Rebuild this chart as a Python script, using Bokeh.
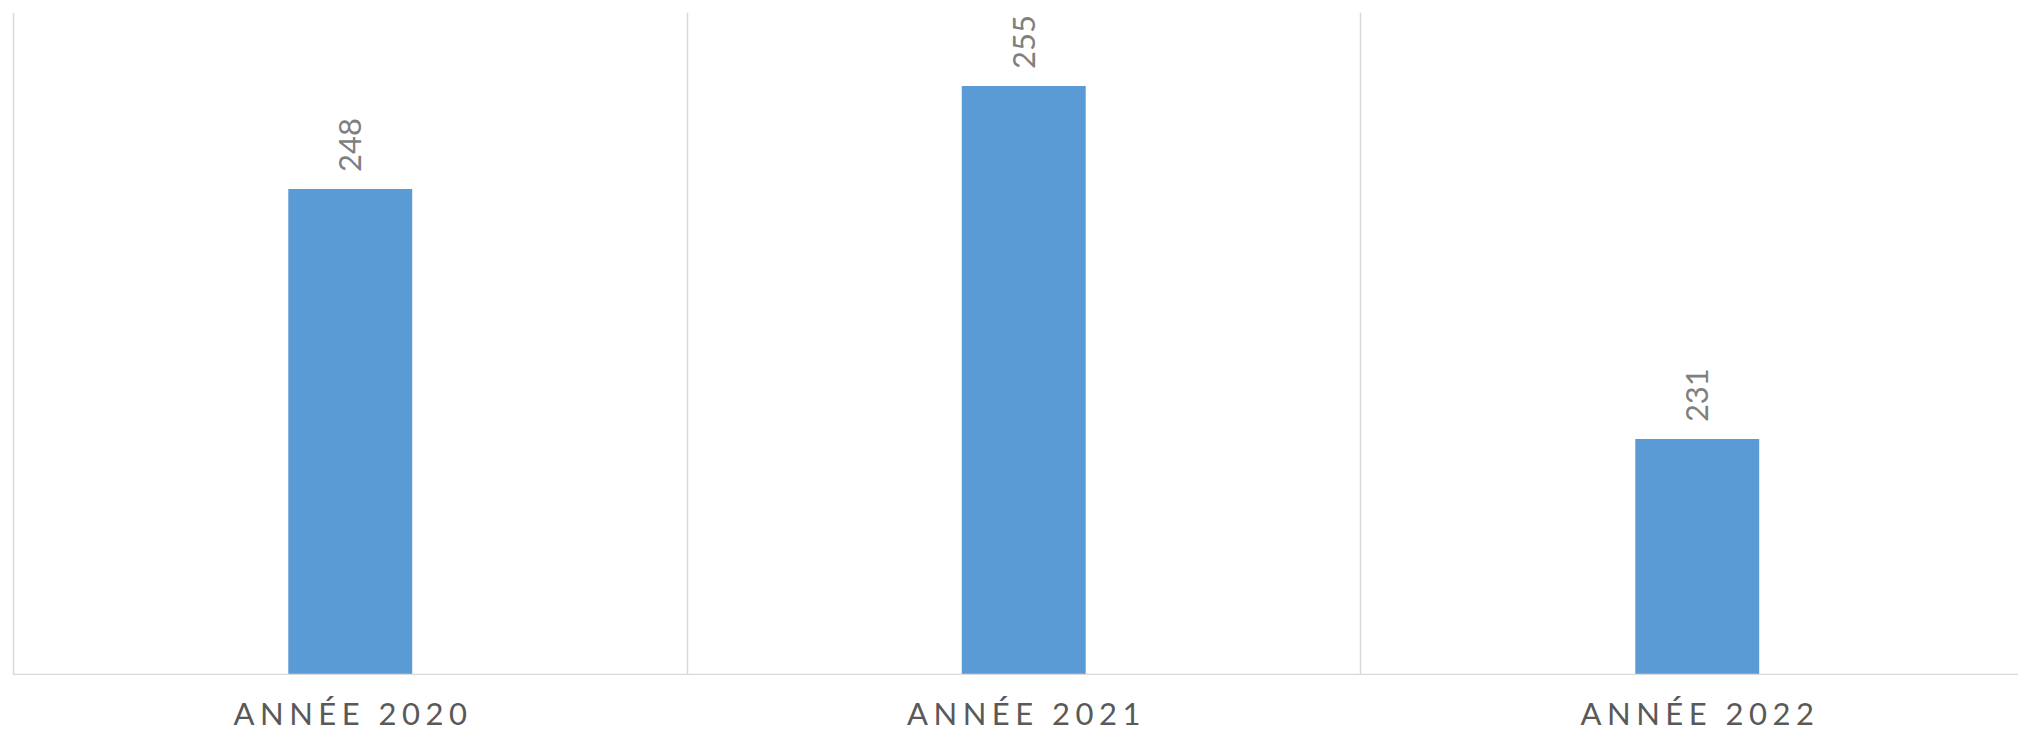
import math
from bokeh.plotting import figure
from bokeh.models import ColumnDataSource, Range1d, FixedTicker, InlineStyleSheet, Grid, Span
from bokeh.layouts import column
from bokeh.core.properties import value
from bokeh.embed import file_html
from bokeh.resources import INLINE

# ---- data ----
categories = ["ANNÉE 2020", "ANNÉE 2021", "ANNÉE 2022"]
values = [248, 255, 231]
y_min = 215
y_max = 260

FONT = "Lato"
BAR_COLOR = "#5b9bd5"
GRID_COLOR = "#d9d9d9"
LETTER_SPACING = 5.5

n = len(categories)
xs = [i + 0.5 for i in range(n)]
# Bokeh positions centred text from its own width (without letter-spacing),
# so shift each label left by half of the added spacing.
cat_shift = [-(len(c) - 1) * LETTER_SPACING / 2 for c in categories]
src = ColumnDataSource(dict(x=xs, top=values, label=[str(v) for v in values],
                            cat=categories, shift=cat_shift))

W = 2018
cat_px = 673.5
frame_w = W - 12
x0 = -1.0 / cat_px
x_range = Range1d(x0, x0 + frame_w / cat_px)

main_h = 675
frame_h = main_h - 12
y0 = y_min - (y_max - y_min) / (frame_h - 1)

p = figure(width=W, height=main_h, x_range=x_range, y_range=Range1d(y0, y_max),
           output_backend="svg", toolbar_location=None,
           x_axis_location=None, y_axis_location=None,
           min_border_left=12, min_border_right=0, min_border_top=12, min_border_bottom=0)
p.outline_line_color = None
p.background_fill_color = "white"
p.border_fill_color = "white"
p.xgrid.grid_line_color = None
p.ygrid.grid_line_color = None

p.add_layout(Grid(dimension=0, ticker=FixedTicker(ticks=list(range(n + 1))),
                  grid_line_color=GRID_COLOR, grid_line_width=1.5))
p.add_layout(Span(location=y_min, dimension="width", line_color=GRID_COLOR, line_width=1.5))

p.vbar(x="x", top="top", bottom=y_min, width=0.184, source=src,
       fill_color=BAR_COLOR, line_color=None)

p.text(x="x", y="top", text="label", source=src, angle=math.pi / 2,
       text_align="left", text_baseline="middle", y_offset=-17,
       text_font=value(FONT), text_font_size="31px", text_color="#7f7f7f")

lab = figure(width=W, height=731 - main_h, x_range=x_range, y_range=Range1d(0, 1),
             output_backend="svg", toolbar_location=None,
             x_axis_location=None, y_axis_location=None,
             min_border_left=12, min_border_right=0, min_border_top=0, min_border_bottom=0)
lab.outline_line_color = None
lab.xgrid.grid_line_color = None
lab.ygrid.grid_line_color = None
lab.border_fill_color = "white"
lab.background_fill_color = "white"
lab.text(x="x", y=0.5, text="cat", source=src, text_align="center",
         text_baseline="middle", y_offset=9, x_offset="shift",
         text_font=value(FONT), text_font_size="31px", text_color="#595959")
lab.stylesheets = [InlineStyleSheet(css=":host { letter-spacing: %spx; }" % LETTER_SPACING)]

layout = column(p, lab, spacing=0)
open("out.html", "w").write(file_html(layout, INLINE))
